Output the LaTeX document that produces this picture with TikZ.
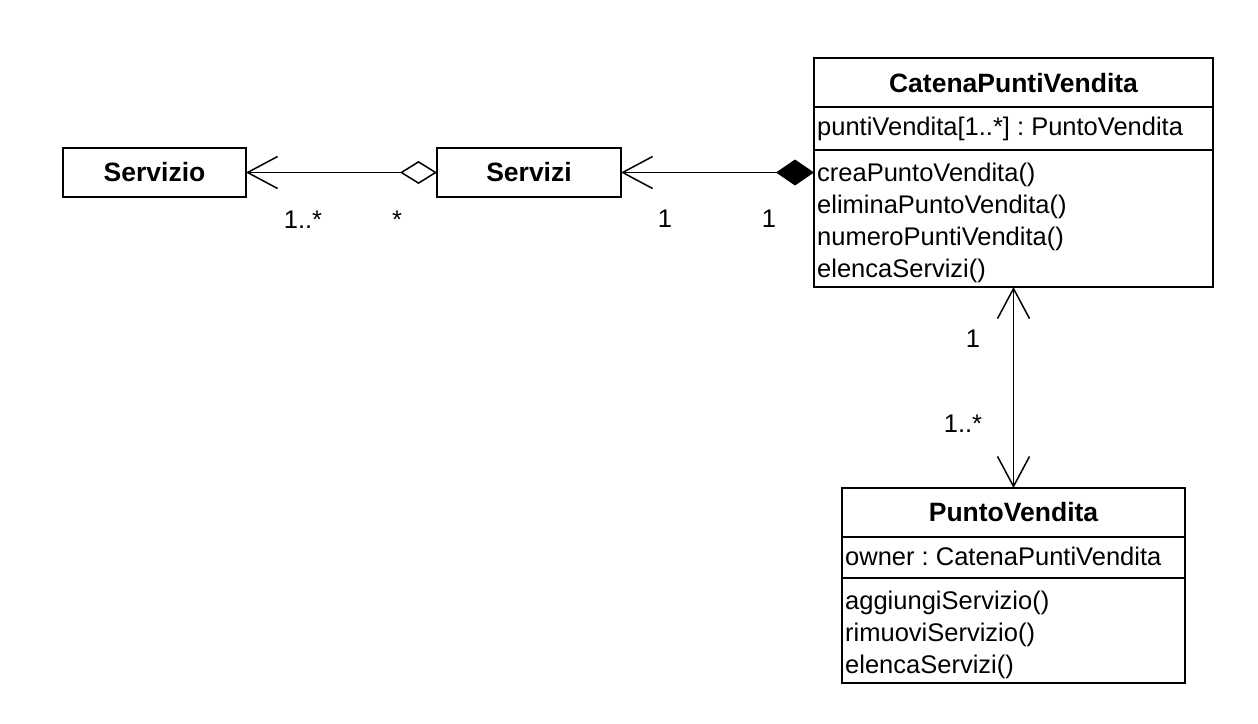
\documentclass[tikz,border=0pt]{standalone}
\usepackage{fontspec}
\setmainfont{Liberation Sans}
\frenchspacing
\usetikzlibrary{arrows.meta}
\tikzset{
  classbox/.style={draw=black, line width=2pt, inner sep=0pt, outer sep=0pt, fill=white},
  ttl/.style={font=\fontsize{26.5}{30}\selectfont\bfseries, inner sep=0pt, anchor=base},
  mem/.style={font=\fontsize{25.5}{30}\selectfont\frenchspacing, inner sep=0pt, anchor=base west},
  mult/.style={font=\fontsize{25.5}{30}\selectfont, inner sep=0pt, anchor=base},
  sep/.style={line width=2pt},
  assoc/.style={line width=1.5pt},
  openarr/.tip={Straight Barb[length=30pt,width=32pt,line width=1.5pt]},
  odiam/.tip={Diamond[length=37pt,width=23pt,open,fill=white,line width=1.5pt]},
  fdiam/.tip={Diamond[length=38pt,width=26pt,line width=1.5pt]}
}
\begin{document}
\begin{tikzpicture}[x=1pt,y=-1pt]
\useasboundingbox[fill=white] (0,0) rectangle (1258,723);

% Servizio
\node[classbox, minimum width=183pt, minimum height=49pt] (servizio) at (154.5,172.5) {};
\node[ttl] (servizioT) at (154.5,181) {Servizio};

% Servizi
\node[classbox, minimum width=184pt, minimum height=49pt] (servizi) at (529,172.5) {};
\node[ttl] (serviziT) at (529,181) {Servizi};

% CatenaPuntiVendita
\node[classbox, minimum width=399pt, minimum height=229pt] (catena) at (1013.5,172.5) {};
\coordinate (cs1w) at (814,107); \coordinate (cs1e) at (1213,107);
\coordinate (cs2w) at (814,150); \coordinate (cs2e) at (1213,150);
\draw[sep] (cs1w) -- (cs1e);
\draw[sep] (cs2w) -- (cs2e);
\node[ttl] (catenaT) at (1013.5,92) {CatenaPuntiVendita};
\node[mem] (catenaA) at (817,135) {puntiVendita[1..*] : PuntoVendita};
\node[mem] (catenaO1) at (817,181) {creaPuntoVendita()};
\node[mem] (catenaO2) at (817,213) {eliminaPuntoVendita()};
\node[mem] (catenaO3) at (817,245) {numeroPuntiVendita()};
\node[mem] (catenaO4) at (817,277) {elencaServizi()};

% PuntoVendita
\node[classbox, minimum width=343pt, minimum height=195pt] (punto) at (1013.5,585.5) {};
\coordinate (ps1w) at (842,537); \coordinate (ps1e) at (1185,537);
\coordinate (ps2w) at (842,578); \coordinate (ps2e) at (1185,578);
\draw[sep] (ps1w) -- (ps1e);
\draw[sep] (ps2w) -- (ps2e);
\node[ttl] (puntoT) at (1013.5,521) {PuntoVendita};
\node[mem] (puntoA) at (845,565) {owner : CatenaPuntiVendita};
\node[mem] (puntoO1) at (845,609) {aggiungiServizio()};
\node[mem] (puntoO2) at (845,641) {rimuoviServizio()};
\node[mem] (puntoO3) at (845,673) {elencaServizi()};

% connectors
\draw[assoc, odiam-openarr] (servizi.west) -- (servizio.east);
\draw[assoc, fdiam-openarr] (catena.west) -- (servizi.east);
\draw[assoc, openarr-openarr] (catena.south) -- (punto.north);

% multiplicities
\node[mult] (m1) at (303,228) {1..*};
\node[mult] (m2) at (397,228) {*};
\node[mult] (m3) at (665,227) {1};
\node[mult] (m4) at (769,227) {1};
\node[mult] (m5) at (973,347) {1};
\node[mult] (m6) at (963,432) {1..*};
\end{tikzpicture}
\end{document}
